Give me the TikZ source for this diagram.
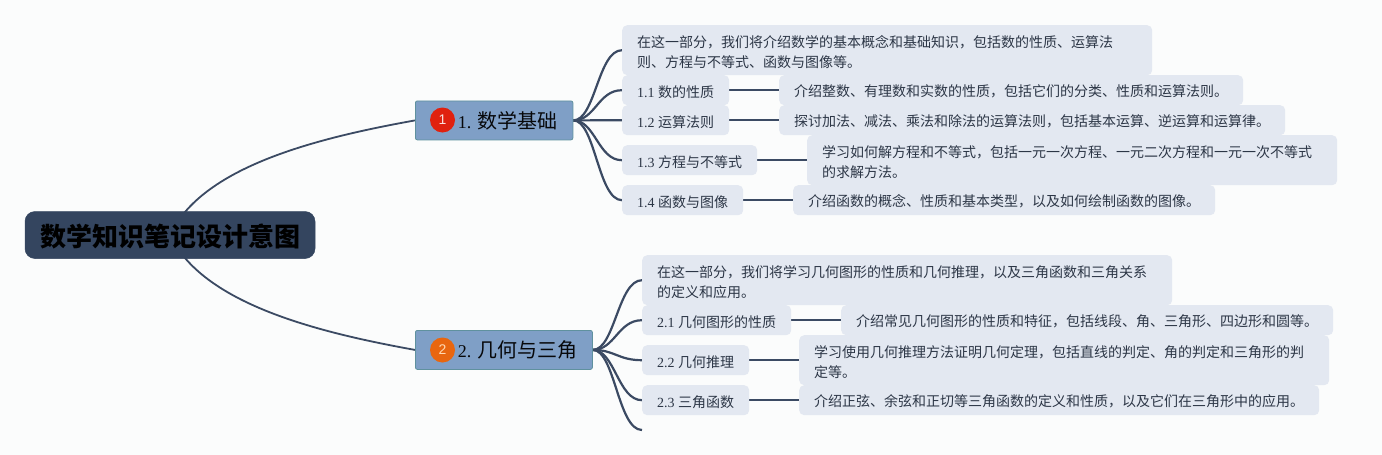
\documentclass[tikz,border=0pt]{standalone}
\usepackage{fontspec}
\setmainfont{Liberation Serif}
\newfontfamily\cjk{Noto Sans CJK SC}
\newfontfamily\badgefont{Liberation Sans}
\usetikzlibrary{backgrounds}
\definecolor{pagebg}{HTML}{FBFCFC}
\definecolor{rootfill}{HTML}{34455F}
\definecolor{topicfill}{HTML}{7F9FC6}
\definecolor{topicedge}{HTML}{5F919E}
\definecolor{leaffill}{HTML}{E3E8F1}
\definecolor{linkcol}{HTML}{3B4A63}
\definecolor{leaftext}{HTML}{2C3646}
\definecolor{redbadge}{HTML}{E0210F}
\definecolor{orangebadge}{HTML}{E8660F}
\tikzset{
  x=1pt,y=-1pt,
  rootnode/.style={draw=rootfill,fill=rootfill,rounded corners=10pt,line width=0.5pt,minimum width=290pt,minimum height=47pt,inner sep=0pt,text=black,font=\fontsize{26}{30}\cjk\bfseries},
  topicnode/.style={draw=topicedge,fill=topicfill,rounded corners=2pt,line width=0.8pt,minimum height=39pt,inner sep=0pt,anchor=north west,text=black!85!leaftext,font=\fontsize{20}{24}\selectfont},
  leaf/.style={fill=leaffill,rounded corners=5pt,minimum height=30pt,inner xsep=15pt,inner ysep=0pt,anchor=north west,text=leaftext,align=left,font=\fontsize{14}{20}\selectfont,execute at begin node={\rule{0pt}{15pt}}},
  twoline/.style={leaf,minimum height=50pt,text width=500pt},
  badge/.style={circle,minimum size=25pt,inner sep=0pt,font=\fontsize{14}{14}\badgefont},
  rootlink/.style={draw=linkcol,line width=1.8pt},
  branch/.style={draw=linkcol,line width=2.2pt},
  straightlink/.style={draw=linkcol,line width=2.2pt},
}
\newcommand{\zh}[1]{{\cjk #1}}
\begin{document}
\begin{tikzpicture}
\useasboundingbox (0,0) rectangle (1382,455);
% nodes
\node[rootnode] (root) at (170,235) {\rule{0pt}{26pt}\hspace{1pt}数学知识笔记设计意图};

\node[topicnode,minimum width=157.5pt] (t1) at (415,100.5) {\makebox[157.5pt][l]{\hspace{42.5pt}\fontsize{18}{24}\selectfont 1. \zh{\fontsize{20}{24}\selectfont 数学基础}}};
\node[badge,fill=redbadge,text=white!85!redbadge] (b1) at (442.5,120) {1};
\node[topicnode,minimum width=177pt] (t2) at (415,330) {\makebox[177pt][l]{\hspace{42.5pt}\fontsize{18}{24}\selectfont 2. \zh{\fontsize{20}{24}\selectfont 几何与三角}}};
\node[badge,fill=orangebadge,text=orange!30!white] (b2) at (442.5,350) {2};

\node[twoline] (i1) at (622,25) {\zh{在这一部分，我们将介绍数学的基本概念和基础知识，包括数的性质、运算法\\则、方程与不等式、函数与图像等。}};
\node[leaf,minimum width=107pt] (n11) at (622,75) {1.1 \zh{数的性质}};
\node[leaf,minimum width=464pt] (d11) at (779,75) {\zh{介绍整数、有理数和实数的性质，包括它们的分类、性质和运算法则。}};
\node[leaf,minimum width=107pt] (n12) at (622,105) {1.2 \zh{运算法则}};
\node[leaf,minimum width=506pt] (d12) at (779,105) {\zh{探讨加法、减法、乘法和除法的运算法则，包括基本运算、逆运算和运算律。}};
\node[leaf,minimum width=135pt] (n13) at (622,145) {1.3 \zh{方程与不等式}};
\node[twoline] (d13) at (807,135) {\zh{学习如何解方程和不等式，包括一元一次方程、一元二次方程和一元一次不等式\\的求解方法。}};
\node[leaf,minimum width=121pt] (n14) at (622,185) {1.4 \zh{函数与图像}};
\node[leaf,minimum width=422pt] (d14) at (793,185) {\zh{介绍函数的概念、性质和基本类型，以及如何绘制函数的图像。}};

\node[twoline] (i2) at (642,255) {\zh{在这一部分，我们将学习几何图形的性质和几何推理，以及三角函数和三角关系\\的定义和应用。}};
\node[leaf,minimum width=149pt] (n21) at (642,305) {2.1 \zh{几何图形的性质}};
\node[leaf,minimum width=492pt] (d21) at (841,305) {\zh{介绍常见几何图形的性质和特征，包括线段、角、三角形、四边形和圆等。}};
\node[leaf,minimum width=107pt] (n22) at (642,345) {2.2 \zh{几何推理}};
\node[twoline] (d22) at (799,335) {\zh{学习使用几何推理方法证明几何定理，包括直线的判定、角的判定和三角形的判\\定等。}};
\node[leaf,minimum width=107pt] (n23) at (642,385) {2.3 \zh{三角函数}};
\node[leaf,minimum width=520pt] (d23) at (799,385) {\zh{介绍正弦、余弦和正切等三角函数的定义和性质，以及它们在三角形中的应用。}};
\coordinate (free) at (642,430);

\begin{scope}[on background layer]
\fill[pagebg] (0,0) rectangle (1382,455);
\draw[rootlink] (root.center) .. controls +(32,-68) and +(-100,18) .. (t1.west);
\draw[rootlink] (root.center) .. controls +(32,68) and +(-100,-18) .. (t2.west);
\foreach \n in {i1,n11,n12,n13,n14}
  \draw[branch] (t1.east) .. controls +(22,0) and +(-24,0) .. (\n.west);
\foreach \n in {i2,n21,n22,n23,free}
  \draw[branch] (t2.east) .. controls +(22,0) and +(-24,0) .. (\n.west);
\draw[straightlink] (n11.east) -- (d11.west);
\draw[straightlink] (n12.east) -- (d12.west);
\draw[straightlink] (n13.east) -- (d13.west);
\draw[straightlink] (n14.east) -- (d14.west);
\draw[straightlink] (n21.east) -- (d21.west);
\draw[straightlink] (n22.east) -- (d22.west);
\draw[straightlink] (n23.east) -- (d23.west);
\end{scope}
\end{tikzpicture}
\end{document}
